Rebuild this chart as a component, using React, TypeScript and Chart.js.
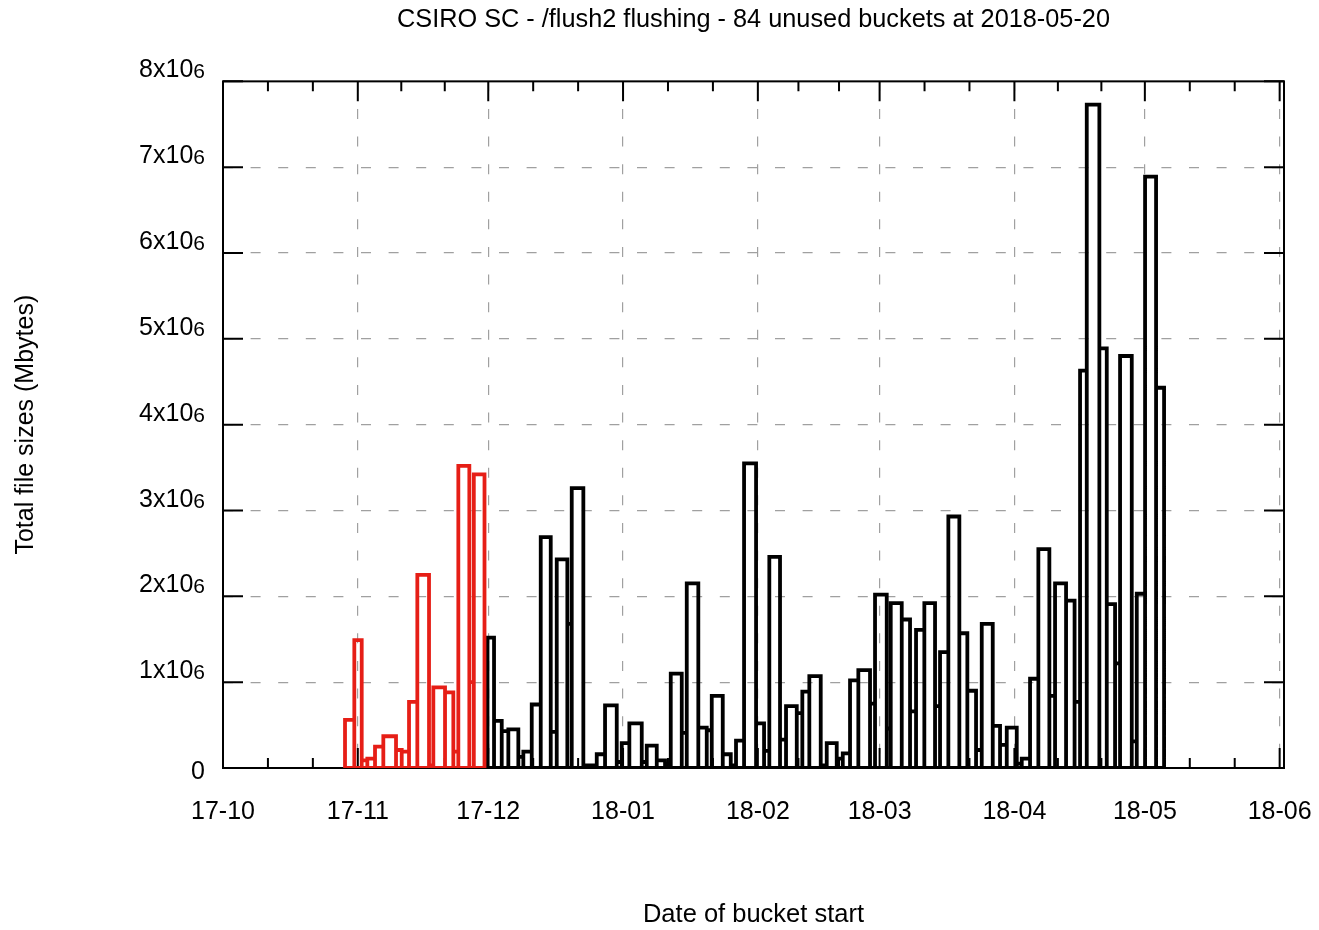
import React, { useEffect, useRef } from 'react';
import { Chart, registerables } from 'chart.js';

Chart.register(...registerables);

const TITLE = 'CSIRO SC - /flush2 flushing - 84 unused buckets at 2018-05-20';
const X_TITLE = 'Date of bucket start';
const Y_TITLE = 'Total file sizes (Mbytes)';

// x axis in days since 2017-10-01
const monthTickDays = [0, 31, 61, 92, 123, 151, 182, 212, 243];
const monthTickLabels = ['17-10', '17-11', '17-12', '18-01', '18-02', '18-03', '18-04', '18-05', '18-06'];
const X_MIN_DAYS = 0;
const X_MAX_DAYS = 244;

const yTickValues = [0, 1000000, 2000000, 3000000, 4000000, 5000000, 6000000, 7000000, 8000000];
const yTickMain = ['0', '1x10', '2x10', '3x10', '4x10', '5x10', '6x10', '7x10', '8x10'];
const yTickSup = ['', '6', '6', '6', '6', '6', '6', '6', '6'];

// red buckets: box edges (days since 2017-10-01) and totals (Mbytes)
const redEdges = [28.06, 30.2, 31.9, 33.19, 34.96, 36.87, 39.79, 41.1, 42.78, 44.69, 47.38, 48.37, 51.06, 52.97, 54.12, 56.65, 57.68, 60.14];
const redValues = [560000, 1490000, 90000, 110000, 250000, 370000, 210000, 190000, 770000, 2250000, 30000, 940000, 880000, 190000, 3520000, 1000000, 3420000];

// black buckets
const blackEdges = [60.83, 62.33, 64.1, 65.62, 67.92, 69.07, 71.0, 73.07, 75.37, 76.75, 79.19, 80.2, 82.87, 85.95, 87.86, 90.55, 91.7, 93.45, 96.3, 97.45, 99.75, 101.66, 102.97, 105.5, 106.65, 109.31, 111.25, 112.4, 114.93, 116.77, 117.98, 119.83, 122.59, 124.43, 125.64, 128.1, 129.48, 131.95, 133.23, 134.84, 137.46, 138.84, 141.14, 142.53, 144.2, 146.11, 148.8, 149.95, 152.64, 153.56, 156.09, 158.0, 159.38, 161.29, 163.75, 164.9, 166.81, 169.34, 171.18, 173.18, 174.49, 177.02, 178.7, 180.24, 182.54, 183.69, 185.6, 187.51, 190.04, 191.35, 193.88, 195.84, 197.1, 198.64, 201.54, 203.24, 205.15, 206.3, 208.99, 210.14, 212.05, 214.58, 216.42];
const blackValues = [
  1520000, 550000, 430000, 450000, 130000, 190000, 740000, 2690000, 420000, 2430000,
  1680000, 3260000, 30000, 160000, 730000, 70000, 290000, 520000, 70000, 260000,
  90000, 50000, 1100000, 410000, 2150000, 470000, 440000, 840000, 160000, 30000,
  320000, 3550000, 520000, 200000, 2460000, 330000, 720000, 640000, 890000, 1070000,
  30000, 290000, 110000, 170000, 1020000, 1140000, 750000, 2020000, 460000, 1920000,
  1730000, 660000, 1610000, 1920000, 720000, 1350000, 2930000, 1570000, 900000, 210000,
  1680000, 490000, 270000, 470000, 50000, 110000, 1040000, 2550000, 840000, 2150000,
  1950000, 770000, 4630000, 7730000, 4890000, 1910000, 1220000, 4800000, 310000, 2030000,
  6890000, 4430000,
];

const RED = 'rgb(230, 30, 22)';
const FONT = "'Liberation Sans', Arial, Helvetica, sans-serif";
const GRID = '#a0a0a0';
const BAR_LW = 3.8;

function outline(edges: number[], values: number[]) {
  const pts: { x: number; y: number }[] = [];
  for (let i = 0; i < values.length; i++) {
    pts.push({ x: edges[i], y: 0 });
    pts.push({ x: edges[i], y: values[i] });
    pts.push({ x: edges[i + 1], y: values[i] });
    pts.push({ x: edges[i + 1], y: 0 });
  }
  pts.push({ x: edges[0], y: 0 });
  return pts;
}

const framePlugin = {
  id: 'gnuFrame',
  beforeDatasetsDraw(chart: any) {
    const { ctx, chartArea } = chart;
    const { left, right, top, bottom } = chartArea;
    const xs = chart.scales.x;
    const ys = chart.scales.y;
    ctx.save();
    ctx.strokeStyle = '#000';
    ctx.lineWidth = 2;
    ctx.setLineDash([]);
    ctx.strokeRect(left, top, right - left, bottom - top);
    ctx.beginPath();
    for (const v of yTickValues) {
      const y = ys.getPixelForValue(v);
      ctx.moveTo(left, y); ctx.lineTo(left + 20, y);
      ctx.moveTo(right, y); ctx.lineTo(right - 20, y);
    }
    for (let i = 0; i < monthTickDays.length; i++) {
      const x = xs.getPixelForValue(monthTickDays[i]);
      ctx.moveTo(x, bottom); ctx.lineTo(x, bottom - 20);
      ctx.moveTo(x, top); ctx.lineTo(x, top + 20);
      if (i < monthTickDays.length - 1) {
        const a = monthTickDays[i];
        const b = monthTickDays[i + 1];
        for (const f of [1 / 3, 2 / 3]) {
          const xm = xs.getPixelForValue(a + (b - a) * f);
          ctx.moveTo(xm, bottom); ctx.lineTo(xm, bottom - 10);
          ctx.moveTo(xm, top); ctx.lineTo(xm, top + 10);
        }
      }
    }
    ctx.stroke();
    ctx.restore();
  },
  afterDraw(chart: any) {
    const { ctx } = chart;
    const ys = chart.scales.y;
    const xRight = 205;
    ctx.save();
    ctx.fillStyle = '#000';
    ctx.textBaseline = 'alphabetic';
    ctx.textAlign = 'right';
    for (let i = 0; i < yTickValues.length; i++) {
      const y = ys.getPixelForValue(yTickValues[i]);
      const sup = yTickSup[i];
      if (sup) {
        ctx.font = `21px ${FONT}`;
        const w = ctx.measureText(sup).width;
        ctx.fillText(sup, xRight, y - 3);
        ctx.font = `25px ${FONT}`;
        ctx.fillText(yTickMain[i], xRight - w, y - 4);
      } else {
        ctx.font = `25px ${FONT}`;
        ctx.fillText(yTickMain[i], xRight, y + 11);
      }
    }
    ctx.restore();
  },
};

export default function App() {
  const ref = useRef<HTMLCanvasElement | null>(null);
  useEffect(() => {
    if (!ref.current) return;
    const lineStyle = {
      borderWidth: BAR_LW,
      pointRadius: 0,
      fill: false,
      tension: 0,
      borderJoinStyle: 'miter',
      borderCapStyle: 'butt',
    };
    const chart = new Chart(ref.current, {
      type: 'line',
      data: {
        datasets: [
          { data: outline(redEdges, redValues), borderColor: RED, ...lineStyle },
          { data: outline(blackEdges, blackValues), borderColor: '#000', ...lineStyle },
        ],
      },
      options: {
        animation: false,
        responsive: false,
        maintainAspectRatio: false,
        devicePixelRatio: 1,
        events: [],
        layout: { padding: { left: 0, right: 35, top: 0, bottom: 0 } },
        plugins: {
          legend: { display: false },
          tooltip: { enabled: false },
          title: {
            display: true,
            text: TITLE,
            fullSize: false,
            color: '#000',
            font: { family: FONT, size: 25.3, weight: 'normal' },
            padding: { top: 5, bottom: 46 },
          },
        },
        scales: {
          x: {
            type: 'linear',
            min: X_MIN_DAYS,
            max: X_MAX_DAYS,
            afterBuildTicks: (s: any) => {
              s.ticks = monthTickDays.map((v) => ({ value: v }));
            },
            afterFit: (s: any) => {
              s.height = 162;
              s.paddingLeft = 0;
              s.paddingRight = 0;
            },
            ticks: {
              autoSkip: false,
              maxRotation: 0,
              minRotation: 0,
              padding: 29,
              color: '#000',
              font: { family: FONT, size: 25 },
              callback: (_v: any, i: number) => monthTickLabels[i],
            },
            grid: {
              color: (c: any) => (c.index === 0 ? 'rgba(0,0,0,0)' : GRID),
              lineWidth: 1.2,
              drawTicks: false,
              tickLength: 0,
            },
            border: { display: false, dash: [10, 17.6] },
            title: {
              display: true,
              text: X_TITLE,
              color: '#000',
              font: { family: FONT, size: 25.5 },
              padding: { top: 0, bottom: 0 },
            },
          },
          y: {
            type: 'linear',
            min: 0,
            max: 8000000,
            afterBuildTicks: (s: any) => {
              s.ticks = yTickValues.map((v) => ({ value: v }));
            },
            afterFit: (s: any) => {
              s.width = 223;
            },
            ticks: { display: false },
            grid: {
              color: (c: any) => (c.index === 0 || c.index === yTickValues.length - 1 ? 'rgba(0,0,0,0)' : GRID),
              lineWidth: 1.2,
              drawTicks: false,
              tickLength: 0,
            },
            border: { display: false, dash: [10, 17.6] },
            title: {
              display: true,
              text: Y_TITLE,
              color: '#000',
              font: { family: FONT, size: 25 },
              padding: { top: 11, bottom: 0 },
            },
          },
        },
      },
      plugins: [framePlugin],
    } as any);
    return () => chart.destroy();
  }, []);
  return (
    <div style={{ position: 'absolute', left: 0, top: 0, width: 1319, height: 930, background: '#fff' }}>
      <canvas ref={ref} width={1319} height={930} style={{ width: 1319, height: 930, display: 'block' }} />
    </div>
  );
}
